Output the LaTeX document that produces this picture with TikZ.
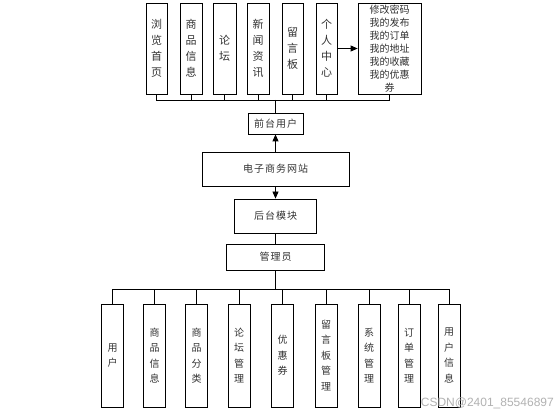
\documentclass[tikz,border=0pt]{standalone}
\usepackage{fontspec}
\setmainfont{Noto Sans CJK SC}
\newfontfamily\spacedfont[LetterSpace=10]{Noto Sans CJK SC}
\newfontfamily\wmfont{Liberation Sans}
\usetikzlibrary{arrows.meta}
\begin{document}
\begin{tikzpicture}[x=1pt,y=-1pt,
  box/.style={draw=black, line width=0.8pt, inner sep=0pt, align=center, text=black!80},
  topbox/.style={box, minimum height=91pt, font=\fontsize{11}{16}\selectfont},
  botbox/.style={box, minimum width=22pt, minimum height=103pt, font=\fontsize{10}{15.5}\selectfont},
  midbox/.style={box, font=\spacedfont\fontsize{10}{12}\selectfont},
  conn/.style={draw=black, line width=0.8pt},
  arr/.style={conn, -{Triangle[length=7pt,width=6pt]}}]
\useasboundingbox (0,0) rectangle (557,414);
\fill[white] (0,0) rectangle (557,414);
% top boxes
\node[topbox, minimum width=21pt] (t1) at (156.5,48.5) {浏\\览\\首\\页};
\node[topbox, minimum width=22pt] (t2) at (191,48.5) {商\\品\\信\\息};
\node[topbox, minimum width=23pt] (t3) at (224.5,48.5) {论\\坛};
\node[topbox, minimum width=22pt] (t4) at (258,48.5) {新\\闻\\资\\讯};
\node[topbox, minimum width=21pt] (t5) at (292.5,48.5) {留\\言\\板};
\node[topbox, minimum width=21pt] (t6) at (326.5,48.5) {个\\人\\中\\心};
\node[box, minimum width=63pt, minimum height=91pt, font=\fontsize{10}{13}\selectfont] (t7) at (389.5,48.5) {修改密码\\我的发布\\我的订单\\我的地址\\我的收藏\\我的优惠\\券};
\draw[arr] (t6.east) -- (t7.west);
% middle
\node[midbox, minimum width=55pt, minimum height=21pt] (front) at (275.5,123.5) {前台用户};
\node[midbox, minimum width=147pt, minimum height=34pt] (site) at (275.5,169) {电子商务网站};
\node[midbox, minimum width=82pt, minimum height=34pt] (back) at (275.5,216) {后台模块};
\node[midbox, minimum width=98pt, minimum height=26pt] (admin) at (275.5,257) {管理员};
\coordinate (busT) at (275.5,100);
\coordinate (busB) at (275.5,289);
\foreach \n in {t1,t2,t3,t4,t5,t6,t7} \draw[conn] (\n.south) |- (busT);
\draw[conn] (busT) -- (front.north);
\draw[arr] (site.north) -- (front.south);
\draw[arr] (site.south) -- (back.north);
\draw[conn] (back.south) -- (admin.north);
\draw[conn] (admin.south) -- (busB);
% bottom boxes
\node[botbox] (b1) at (112.5,355.5) {用\\户};
\node[botbox] (b2) at (154.5,355.5) {商\\品\\信\\息};
\node[botbox] (b3) at (196.5,355.5) {商\\品\\分\\类};
\node[botbox] (b4) at (239,355.5) {论\\坛\\管\\理};
\node[botbox] (b5) at (282.5,355.5) {优\\惠\\券};
\node[botbox] (b6) at (326,355.5) {留\\言\\板\\管\\理};
\node[botbox] (b7) at (369,355.5) {系\\统\\管\\理};
\node[botbox] (b8) at (409,355.5) {订\\单\\管\\理};
\node[botbox] (b9) at (449,355.5) {用\\户\\信\\息};
\foreach \n in {b1,b2,b3,b4,b5,b6,b7,b8,b9} \draw[conn] (\n.north) |- (busB);
% watermark
\node[anchor=east, inner sep=0pt, text=black!30, font=\wmfont\fontsize{12}{12}\selectfont] (wm) at (554,403) {CSDN@2401\_85546897};
\end{tikzpicture}
\end{document}
